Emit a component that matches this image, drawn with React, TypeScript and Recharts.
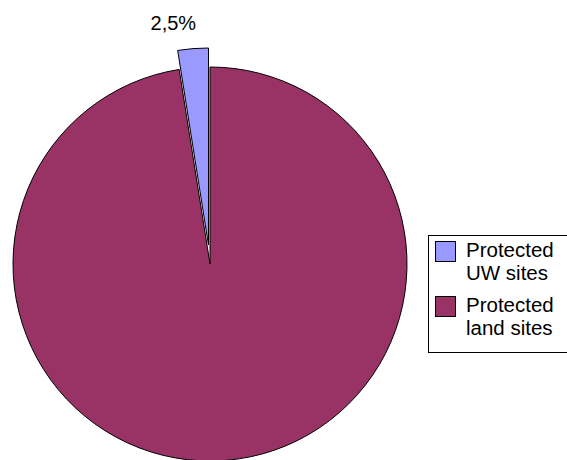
import { Cell, Legend, Pie, PieChart } from 'recharts';

const CATEGORIES = ['Protected UW sites', 'Protected land sites'];
const SHARES = [2.5, 97.5];
const COLORS = ['#9999ff', '#993366'];

const data = CATEGORIES.map((name, i) => ({ name, value: SHARES[i] }));

const RADIAN = Math.PI / 180;
const FONT = '"Liberation Sans", Arial, sans-serif';

function renderLabel(props: any) {
  const { cx, cy, midAngle, outerRadius, index, value } = props;
  if (index !== 0) return <g />;
  const r = outerRadius + 24;
  const x = cx + r * Math.cos(-midAngle * RADIAN);
  const y = cy + r * Math.sin(-midAngle * RADIAN);
  return (
    <text x={x + 5} y={y + 5} textAnchor="end" fill="#000" fontSize={20} fontFamily={FONT}>
      {`${Number(value).toFixed(1).replace('.', ',')}%`}
    </text>
  );
}

function LegendBox() {
  return (
    <div
      style={{
        border: '1px solid #000',
        width: 150,
        height: 118,
        boxSizing: 'border-box',
        background: '#fff',
        fontFamily: FONT,
        fontSize: 20.5,
        lineHeight: '23px',
        color: '#000',
        padding: '5px 0 0 6px'
      }}
    >
      {CATEGORIES.map((name, i) => {
        const [first, ...rest] = name.split(' ');
        return (
          <div key={name} style={{ display: 'flex', alignItems: 'flex-start', marginBottom: i === 0 ? 12 : 0 }}>
            <span
              style={{
                display: 'inline-block',
                width: 21,
                height: 21,
                background: COLORS[i],
                border: '1px solid #000',
                boxSizing: 'border-box',
                marginRight: 10,
                flexShrink: 0
              }}
            />
            <span style={{ marginTop: -3 }}>
              {first}
              <br />
              {rest.join(' ')}
            </span>
          </div>
        );
      })}
    </div>
  );
}

export default function App() {
  return (
    <div style={{ position: 'absolute', left: 0, top: 0, width: 567, height: 460, overflow: 'hidden', background: '#fff' }}>
      <PieChart width={567} height={460} margin={{ top: 0, right: 0, bottom: 0, left: 0 }}>
        <Pie
          data={data}
          dataKey="value"
          nameKey="name"
          cx={210}
          cy={264}
          outerRadius={197}
          startAngle={90}
          endAngle={450}
          isAnimationActive={false}
          legendType="square"
        >
          {data.map((d, i) => (
            <Cell
              key={`base-${d.name}`}
              fill={i === 0 ? 'none' : COLORS[i]}
              stroke={i === 0 ? 'none' : '#000'}
              strokeWidth={1}
            />
          ))}
        </Pie>
        <Pie
          data={data}
          dataKey="value"
          nameKey="name"
          cx={208.5}
          cy={245}
          outerRadius={197}
          startAngle={90}
          endAngle={450}
          isAnimationActive={false}
          label={renderLabel}
          labelLine={false}
          legendType="none"
        >
          {data.map((d, i) => (
            <Cell
              key={`explode-${d.name}`}
              fill={i === 0 ? COLORS[i] : 'none'}
              stroke={i === 0 ? '#000' : 'none'}
              strokeWidth={1}
            />
          ))}
        </Pie>
        <Legend
          content={() => <LegendBox />}
          wrapperStyle={{ position: 'absolute', left: 428, top: 235, width: 150 }}
        />
      </PieChart>
    </div>
  );
}
